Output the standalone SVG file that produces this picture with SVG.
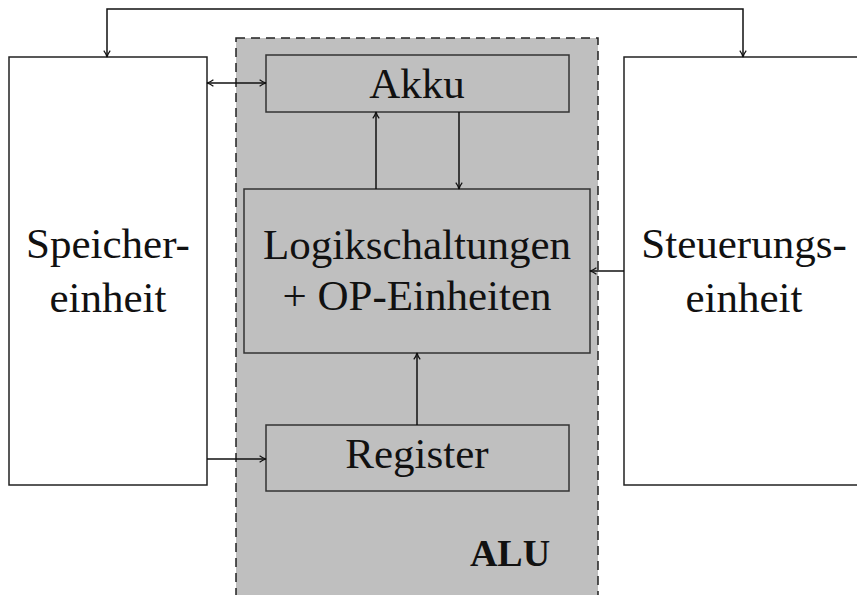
<svg xmlns="http://www.w3.org/2000/svg" width="857" height="595" viewBox="0 0 857 595">
<style>
.box{fill:#fff;stroke:#222;stroke-width:1.5}
.gbox{fill:#bfbfbf;stroke:#333;stroke-width:1.5}
.t{font-family:"Liberation Serif","DejaVu Serif",serif;font-size:43px;fill:#111;text-anchor:middle}
.b{font-weight:bold;font-size:38px}
.c{fill:none;stroke:#111;stroke-width:1.5}
</style>
<defs>
<marker id="ah" viewBox="0 0 10 10" refX="9" refY="5" markerWidth="8" markerHeight="8" markerUnits="userSpaceOnUse" orient="auto-start-reverse">
<path d="M1,1 Q5,4 9,5 Q5,6 1,9" fill="none" stroke="#111" stroke-width="1.5"/>
</marker>
</defs>
<g id="alu">
<rect x="236" y="38" width="362" height="570" fill="#bfbfbf" stroke="#222" stroke-width="1.5" stroke-dasharray="9,6"/>
<text class="t b" x="510" y="566">ALU</text>
</g>
<g id="speicher">
<rect class="box" x="9" y="57" width="198" height="428"/>
<text class="t" x="108" y="258">Speicher-</text>
<text class="t" x="108" y="312">einheit</text>
</g>
<g id="steuer">
<rect class="box" x="624" y="57" width="240" height="428"/>
<text class="t" x="744" y="258">Steuerungs-</text>
<text class="t" x="744" y="312">einheit</text>
</g>
<g id="akku">
<rect class="gbox" x="266" y="55" width="303" height="57"/>
<text class="t" x="417" y="98">Akku</text>
</g>
<g id="logik">
<rect class="gbox" x="244" y="189" width="346" height="164"/>
<text class="t" x="417" y="259">Logikschaltungen</text>
<text class="t" x="417" y="310">+ OP-Einheiten</text>
</g>
<g id="register">
<rect class="gbox" x="266" y="425" width="303" height="66"/>
<text class="t" x="417" y="468">Register</text>
</g>
<g id="connectors">
<path class="c" d="M107,57 V9 H743 V57" marker-start="url(#ah)" marker-end="url(#ah)"/>
<path class="c" d="M207,83 H266" marker-start="url(#ah)" marker-end="url(#ah)"/>
<path class="c" d="M376,189 V112" marker-end="url(#ah)"/>
<path class="c" d="M459,112 V189" marker-end="url(#ah)"/>
<path class="c" d="M624,271 H590" marker-end="url(#ah)"/>
<path class="c" d="M417,425 V353" marker-end="url(#ah)"/>
<path class="c" d="M207,459 H266" marker-end="url(#ah)"/>
</g>
</svg>
